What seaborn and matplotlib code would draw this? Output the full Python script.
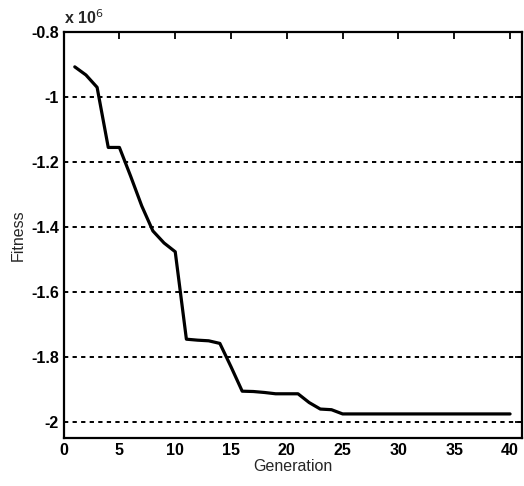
import numpy as np
import pandas as pd
import matplotlib
matplotlib.use("Agg")
import matplotlib.pyplot as plt
import seaborn as sns
from matplotlib.ticker import FuncFormatter, MultipleLocator

generation = list(range(1, 41))
fitness = [-0.907, -0.932, -0.970, -1.155, -1.155, -1.243, -1.335, -1.412, -1.449, -1.476,
           -1.745, -1.748, -1.750, -1.758, -1.830, -1.905, -1.906, -1.909, -1.913, -1.913,
           -1.913, -1.940, -1.960, -1.962, -1.975, -1.975, -1.975, -1.975, -1.975, -1.975,
           -1.975, -1.975, -1.975, -1.975, -1.975, -1.975, -1.975, -1.975, -1.975, -1.975]
y_ticks = [-2.0, -1.8, -1.6, -1.4, -1.2, -1.0, -0.8]
x_ticks = [0, 5, 10, 15, 20, 25, 30, 35, 40]

sns.set_style("white")
plt.rcParams["font.family"] = ["Liberation Sans", "DejaVu Sans"]
plt.rcParams["axes.unicode_minus"] = False

df = pd.DataFrame({"Generation": generation, "Fitness": fitness})

fig = plt.figure(figsize=(5.24, 4.86), dpi=100)
ax = fig.add_axes([0.1214, 0.0988, 0.9962 - 0.1214, 0.934 - 0.0988])

for yv in y_ticks[:-1]:
    ax.axhline(yv, color="black", lw=1.4, ls=(0, (2.2, 2.2)), zorder=1)

sns.lineplot(data=df, x="Generation", y="Fitness", color="black", lw=2.3, ax=ax, zorder=3)

ax.set_xlim(0, 41.07)
ax.set_ylim(-2.049, -0.8)
ax.set_xticks(x_ticks)
ax.set_yticks(y_ticks)
ax.yaxis.set_major_formatter(FuncFormatter(lambda v, p: "%g" % round(v, 2)))
ax.tick_params(direction="in", length=5, width=1.3, top=True, right=True,
               labelsize=11.5, colors="black")
for lbl in ax.get_xticklabels() + ax.get_yticklabels():
    lbl.set_fontweight("bold")
for s in ax.spines.values():
    s.set_color("black")
    s.set_linewidth(1.6)

ax.set_xlabel("Generation", fontsize=11.5, labelpad=1)
ax.set_ylabel("Fitness", fontsize=11.5, labelpad=4)
ax.text(0.0, 1.012, "x 10$^{6}$", transform=ax.transAxes, fontsize=11.5,
        fontweight="bold", ha="left", va="bottom")

fig.savefig("out.png", dpi=100)
